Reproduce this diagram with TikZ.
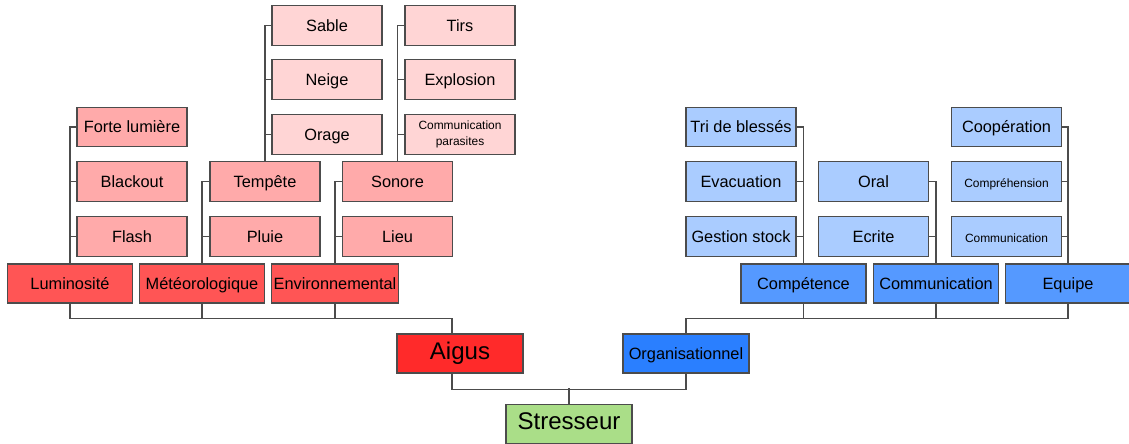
\documentclass[tikz,border=0pt]{standalone}
\usepackage{fontspec}
\setmainfont{Liberation Sans}
\usepackage{tikz}
\usetikzlibrary{calc}
\definecolor{aigu}{HTML}{FF2A2A}
\definecolor{orga}{HTML}{2A7FFF}
\definecolor{stress}{HTML}{AADE88}
\definecolor{rougeA}{HTML}{FF5555}
\definecolor{rougeB}{HTML}{FFAAAA}
\definecolor{rougeC}{HTML}{FFD5D5}
\definecolor{bleuA}{HTML}{5599FF}
\definecolor{bleuB}{HTML}{AACCFF}

\begin{document}
\begin{tikzpicture}[x=0.02cm, y=-0.02cm,
  box/.style={draw=black!70, line width=0.6pt, minimum width=2.2cm, minimum height=0.79cm, inner sep=1pt, align=center, text height=1.5ex, text depth=0.3ex, font=\fontsize{9.3}{11}\selectfont},
  mid/.style={box, minimum width=2.5cm, minimum height=0.78cm},
  top/.style={mid, minimum width=2.52cm, font=\fontsize{13.7}{16}\selectfont},
  tiny/.style={font=\fontsize{6.8}{9}\selectfont},
  lien/.style={draw=black!70, line width=0.6pt},]
\useasboundingbox (0,0) rectangle (1129,443);
% racine
\node[top, fill=stress] (1) at (569, 424) {Stresseur};
\node[top, fill=aigu] (2) at (460, 353.5) {Aigus};
\node[mid, fill=orga, minimum width=2.52cm] (3) at (686, 353.5) {Organisationnel};
% aigus
\node[mid, fill=rougeA] (4) at (70, 283.5) {Luminosité};
\node[mid, fill=rougeA] (5) at (202, 283.5) {Météorologique};
\node[mid, fill=rougeA] (6) at (335, 283.5) {Environnemental};
\node[box, fill=rougeB] (7) at (132, 127) {Forte lumière};
\node[box, fill=rougeB] (8) at (132, 181.5) {Blackout};
\node[box, fill=rougeB] (9) at (132, 236.5) {Flash};
\node[box, fill=rougeB] (10) at (265, 181.5) {Tempête};
\node[box, fill=rougeB] (11) at (265, 236.5) {Pluie};
\node[box, fill=rougeB] (12) at (397.5, 181.5) {Sonore};
\node[box, fill=rougeB] (13) at (397.5, 236.5) {Lieu};
\node[box, fill=rougeC] (14) at (327, 25.5) {Sable};
\node[box, fill=rougeC] (15) at (327, 79.5) {Neige};
\node[box, fill=rougeC] (16) at (327, 134.5) {Orage};
\node[box, fill=rougeC] (17) at (460, 25.5) {Tirs};
\node[box, fill=rougeC] (18) at (460, 79.5) {Explosion};
\node[box, fill=rougeC, tiny, text height=, text depth=] (19) at (460, 134.5) {Communication\\parasites};
% organisationnel
\node[mid, fill=bleuA] (20) at (803.5, 283.5) {Compétence};
\node[mid, fill=bleuA] (21) at (936, 283.5) {Communication};
\node[mid, fill=bleuA] (22) at (1068, 283.5) {Equipe};
\node[box, fill=bleuB] (23) at (741, 127) {Tri de blessés};
\node[box, fill=bleuB] (24) at (741, 181.5) {Evacuation};
\node[box, fill=bleuB] (25) at (741, 236.5) {Gestion stock};
\node[box, fill=bleuB] (26) at (873.5, 181.5) {Oral};
\node[box, fill=bleuB] (27) at (873.5, 236.5) {Ecrite};
\node[box, fill=bleuB] (28) at (1006.5, 127) {Coopération};
\node[box, fill=bleuB, tiny] (29) at (1006.5, 181.5) {Compréhension};
\node[box, fill=bleuB, tiny] (30) at (1006.5, 236.5) {Communication};
% liens du haut
\draw[lien] (4.north) |- (7.west);
\draw[lien] (4.north) |- (8.west);
\draw[lien] (4.north) |- (9.west);
\draw[lien] (5.north) |- (10.west);
\draw[lien] (5.north) |- (11.west);
\draw[lien] (6.north) |- (12.west);
\draw[lien] (6.north) |- (13.west);
\draw[lien] (10.north) |- (14.west);
\draw[lien] (10.north) |- (15.west);
\draw[lien] (10.north) |- (16.west);
\draw[lien] (12.north) |- (17.west);
\draw[lien] (12.north) |- (18.west);
\draw[lien] (12.north) |- (19.west);
\draw[lien] (20.north) |- (23.east);
\draw[lien] (20.north) |- (24.east);
\draw[lien] (20.north) |- (25.east);
\draw[lien] (21.north) |- (26.east);
\draw[lien] (21.north) |- (27.east);
\draw[lien] (22.north) |- (28.east);
\draw[lien] (22.north) |- (29.east);
\draw[lien] (22.north) |- (30.east);
% liens du bas
\coordinate (a) at ($(2.north)+(-8,-15)$);
\coordinate (b) at ($(3.north)+(0,-15)$);
\draw[lien] (4.south) |- (a) -- ($(2.north)+(-8,0)$);
\draw[lien] (5.south) -- (5.south |- a);
\draw[lien] (6.south) -- (6.south |- a);
\draw[lien] (22.south) |- (b) -- (3.north);
\draw[lien] (20.south) -- (20.south |- b);
\draw[lien] (21.south) -- (21.south |- b);
\draw[lien] ($(2.south)+(-8,0)$) -- ++(0,15.5) -| (3.south);
\draw[lien] (1.north) -- ++(0,-15.5);
\end{tikzpicture}
\end{document}
